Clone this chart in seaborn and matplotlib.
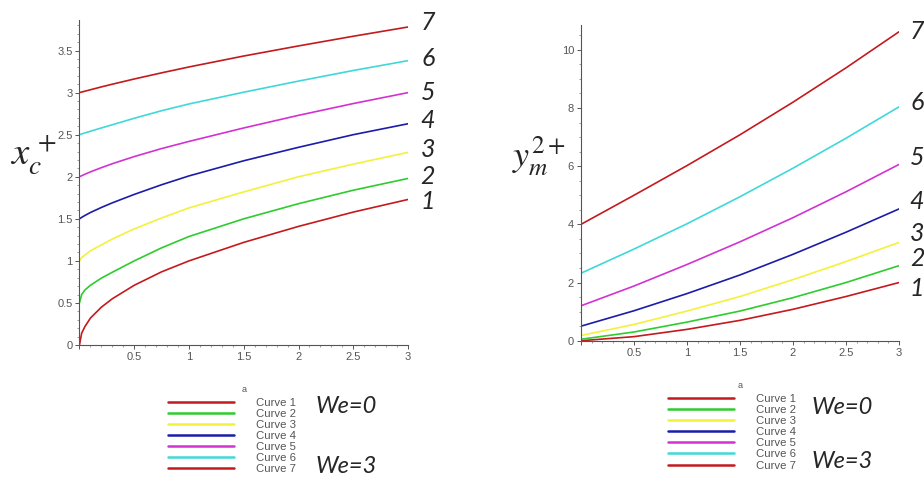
import pandas as pd
import matplotlib.pyplot as plt
import matplotlib.ticker as mticker
import seaborn as sns

# values
x_left = [0, 0.02, 0.05, 0.1, 0.2, 0.3, 0.5, 0.75, 1.0, 1.5, 2.0, 2.5, 3.0]
xc_curves = {
    'Curve 1': [0, 0.14, 0.22, 0.32, 0.45, 0.55, 0.71, 0.87, 1.0, 1.22, 1.41, 1.58, 1.73],
    'Curve 2': [0.5, 0.6, 0.655, 0.71, 0.795, 0.865, 1.0, 1.155, 1.29, 1.50, 1.68, 1.84, 1.98],
    'Curve 3': [1.0, 1.04, 1.07, 1.12, 1.19, 1.26, 1.38, 1.51, 1.63, 1.82, 2.0, 2.15, 2.29],
    'Curve 4': [1.5, 1.517, 1.54, 1.575, 1.635, 1.69, 1.79, 1.905, 2.01, 2.19, 2.35, 2.50, 2.63],
    'Curve 5': [2.0, 2.012, 2.03, 2.058, 2.108, 2.155, 2.24, 2.335, 2.42, 2.58, 2.73, 2.87, 3.0],
    'Curve 6': [2.5, 2.509, 2.521, 2.541, 2.58, 2.618, 2.695, 2.785, 2.865, 3.005, 3.137, 3.263, 3.38],
    'Curve 7': [3.0, 3.007, 3.017, 3.034, 3.068, 3.1, 3.162, 3.235, 3.305, 3.435, 3.555, 3.67, 3.78],
}

x_right = [0, 0.5, 1.0, 1.5, 2.0, 2.5, 3.0]
ym_curves = {
    'Curve 1': [0, 0.14, 0.39, 0.70, 1.08, 1.52, 2.0],
    'Curve 2': [0.05, 0.30, 0.64, 1.02, 1.48, 2.0, 2.58],
    'Curve 3': [0.18, 0.56, 1.02, 1.52, 2.10, 2.72, 3.38],
    'Curve 4': [0.5, 1.03, 1.62, 2.26, 2.97, 3.73, 4.53],
    'Curve 5': [1.2, 1.88, 2.62, 3.40, 4.23, 5.12, 6.06],
    'Curve 6': [2.32, 3.15, 4.02, 4.95, 5.93, 6.96, 8.04],
    'Curve 7': [4.0, 5.0, 6.02, 7.08, 8.20, 9.38, 10.62],
}

curve_names = list(xc_curves.keys())
curve_numbers = ['1', '2', '3', '4', '5', '6', '7']
colors = ['#C41A1E', '#2ECC2E', '#F2F23C', '#1C1CA8', '#D232D2', '#40D8D8', '#C41A1E']


def to_long(x, curves, yname):
    rows = []
    for name, ys in curves.items():
        for xv, yv in zip(x, ys):
            rows.append({'x': xv, yname: yv, 'curve': name})
    return pd.DataFrame(rows)


df_left = to_long(x_left, xc_curves, 'xc')
df_right = to_long(x_right, ym_curves, 'ym')

sns.set_style('ticks')
plt.rcParams['font.family'] = ['Liberation Sans', 'DejaVu Sans']
plt.rcParams['mathtext.fontset'] = 'stix'

fig = plt.figure(figsize=(9.24, 4.79), dpi=100)
ax1 = fig.add_axes([0.086, 0.2797, 0.3556, 0.678])
ax2 = fig.add_axes([0.6288, 0.2887, 0.3442, 0.659])

sns.lineplot(data=df_left, x='x', y='xc', hue='curve', palette=colors,
             estimator=None, sort=False, linewidth=1.2, legend=False, ax=ax1)
sns.lineplot(data=df_right, x='x', y='ym', hue='curve', palette=colors,
             estimator=None, sort=False, linewidth=1.2, legend=False, ax=ax2)

# axis styling, maple-like
for ax, ytop, ymaj, ymin in [(ax1, 3.86, 0.5, 0.1), (ax2, 10.85, 2, 0.5)]:
    ax.set_xlim(0, 3)
    ax.set_ylim(0, ytop)
    ax.set_xlabel('')
    ax.set_ylabel('')
    sns.despine(ax=ax)
    ax.spines['left'].set_color('#555555')
    ax.spines['bottom'].set_color('#555555')
    ax.spines['left'].set_linewidth(0.8)
    ax.spines['bottom'].set_linewidth(0.8)
    ax.xaxis.set_major_locator(mticker.MultipleLocator(0.5))
    ax.xaxis.set_minor_locator(mticker.MultipleLocator(0.1))
    ax.yaxis.set_major_locator(mticker.MultipleLocator(ymaj))
    ax.yaxis.set_minor_locator(mticker.MultipleLocator(ymin))
    ax.xaxis.set_major_formatter(mticker.FuncFormatter(
        lambda v, p: '' if v == 0 else f'{v:g}'))
    ax.yaxis.set_major_formatter(mticker.FuncFormatter(lambda v, p: f'{v:g}'))
    ax.tick_params(which='major', direction='out', length=3, width=0.7,
                   color='#555555', labelsize=8, labelcolor='#555555', pad=2)
    ax.tick_params(which='minor', direction='out', length=1.5, width=0.5,
                   color='#777777')

# curve numbers at the right end
left_label_y = [1.71, 2.0, 2.32, 2.67, 3.0, 3.41, 3.83]
right_label_y = [1.78, 2.84, 3.67, 4.77, 6.31, 8.2, 10.64]
for n, ly in zip(curve_numbers, left_label_y):
    ax1.text(3.18, ly, n, fontsize=18, fontstyle='italic', family='Lato',
             ha='center', va='center', clip_on=False)
for n, ly in zip(curve_numbers, right_label_y):
    ax2.text(3.17, ly, n, fontsize=18, fontstyle='italic', family='Lato',
             ha='center', va='center', clip_on=False)

# y labels
fig.text(0.036, 0.675, r'$x_c^{\,+}$', fontsize=28, ha='center', va='center')
fig.text(0.583, 0.675, r'$y_m^{2+}$', fontsize=26, ha='center', va='center')

# legends below each panel
for ax, lx, ly, ax_a, ay_a, wx, wy0, wy3 in [
        (ax1, 0.1818, 0.170, 0.264, 0.186, 0.3745, 0.152, 0.027),
        (ax2, 0.7230, 0.178, 0.801, 0.196, 0.911, 0.150, 0.036)]:
    leg = ax.legend(ax.get_lines()[:7], curve_names, loc='upper left',
                    bbox_to_anchor=(lx, ly), bbox_transform=fig.transFigure,
                    frameon=False, fontsize=8.2, labelspacing=0.1,
                    handlelength=5.8, handletextpad=1.9, borderpad=0,
                    borderaxespad=0)
    for t in leg.get_texts():
        t.set_color('#555555')
    for h in leg.get_lines():
        h.set_linewidth(1.8)
    fig.text(ax_a, ay_a, 'a', fontsize=6.5, color='#555555', ha='center', va='center')
    fig.text(wx, wy0, 'We=0', fontsize=17, fontstyle='italic', family='Lato',
             ha='center', va='center')
    fig.text(wx, wy3, 'We=3', fontsize=17, fontstyle='italic', family='Lato',
             ha='center', va='center')

plt.savefig('out.png', dpi=100)
